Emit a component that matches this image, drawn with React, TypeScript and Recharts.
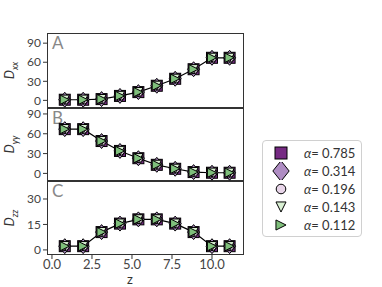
import React from 'react';
import { ComposedChart, Line, Scatter, XAxis, YAxis } from 'recharts';

// positions along z and the three diffusion components
const zValues = [0.8, 1.95, 3.1, 4.25, 5.4, 6.55, 7.7, 8.85, 10.0, 11.1];
const dxx = [1, 1, 2, 7, 13, 23, 34, 49, 67, 67];
const dyy = [67, 67, 49, 34, 23, 13, 7, 2, 1, 1];
const dzz = [2.2, 2.2, 10.5, 15.5, 18, 18, 15.5, 10.5, 2.2, 2.2];

const alphaLabels = ['0.785', '0.314', '0.196', '0.143', '0.112'];
const markerKinds = ['square', 'diamond', 'circle', 'triDown', 'triRight'];
const markerColors = ['#762a83', '#af8dc3', '#e7d4e8', '#d9f0d3', '#7fbf7b'];
const xTicks = [0, 2.5, 5, 7.5, 10];

const FONT = 'Lato, "DejaVu Sans", sans-serif';
const PLOT_LEFT = 47;
const PLOT_RIGHT = 244;
const W = 382;

const Marker = ({ kind, cx, cy, color, s }: any) => {
  const common = { fill: color, stroke: '#000', strokeWidth: 1 };
  switch (kind) {
    case 'square':
      return <rect x={cx - s / 2} y={cy - s / 2} width={s} height={s} {...common} />;
    case 'diamond': {
      const h = s * 0.68;
      return <polygon points={`${cx},${cy - h} ${cx + h * 0.8},${cy} ${cx},${cy + h} ${cx - h * 0.8},${cy}`} {...common} />;
    }
    case 'circle':
      return <circle cx={cx} cy={cy} r={s * 0.4} {...common} />;
    case 'triDown': {
      const h = s * 0.42;
      return <polygon points={`${cx - h},${cy - h} ${cx + h},${cy - h} ${cx},${cy + h}`} {...common} />;
    }
    default: {
      const h = s * 0.42;
      return <polygon points={`${cx - h},${cy - h} ${cx + h},${cy} ${cx - h},${cy + h}`} {...common} />;
    }
  }
};

const YLabel = ({ viewBox, sub }: any) => {
  const x = 14;
  const y = viewBox.y + viewBox.height / 2;
  return (
    <text x={x} y={y} transform={`rotate(-90, ${x}, ${y})`} textAnchor="middle" fontFamily={FONT} fontSize={13} fill="#333">
      <tspan fontStyle="italic">D</tspan>
      <tspan fontStyle="italic" fontSize={9} dy={4}>{sub}</tspan>
    </text>
  );
};

interface PanelProps {
  values: number[];
  top: number;
  plotH: number;
  domain: [number, number];
  ticks: number[];
  sub: string;
  letter: string;
  showX?: boolean;
}

const Panel = ({ values, top, plotH, domain, ticks, sub, letter, showX }: PanelProps) => {
  const rows = zValues.map((z, i) => ({ z, v: values[i] }));
  const axisH = showX ? 32 : 0;
  return (
    <>
      <div
        style={{
          position: 'absolute', left: PLOT_LEFT, top, width: PLOT_RIGHT - PLOT_LEFT, height: plotH,
          border: '1px solid #333', boxSizing: 'border-box',
        }}
      />
      <div style={{ position: 'absolute', left: PLOT_LEFT + 5, top: top + 1, fontFamily: FONT, fontSize: 17, color: '#888', lineHeight: '18px' }}>
        {letter}
      </div>
      <div style={{ position: 'absolute', left: 0, top: 0 }}>
        <ComposedChart
          width={W}
          height={top + plotH + axisH}
          data={rows}
          margin={{ top, right: W - PLOT_RIGHT, left: 0, bottom: 0 }}
        >
          <XAxis
            type="number"
            dataKey="z"
            domain={[-0.31, 12.0]}
            ticks={xTicks}
            interval={0}
            hide={!showX}
            height={axisH}
            axisLine={false}
            tickSize={4}
            tickMargin={1}
            tickLine={{ stroke: '#333' }}
            tick={{ fill: '#444', fontSize: 13, fontFamily: FONT }}
            tickFormatter={(v: number) => v.toFixed(1)}
            allowDataOverflow
          />
          <YAxis
            type="number"
            domain={domain}
            ticks={ticks}
            interval={0}
            width={PLOT_LEFT}
            axisLine={false}
            tickSize={4}
            tickMargin={2}
            tickLine={{ stroke: '#333' }}
            tick={{ fill: '#444', fontSize: 12, fontFamily: FONT }}
            allowDataOverflow
            label={{ content: (p: any) => <YLabel {...p} sub={sub} /> }}
          />
          {markerKinds.map((kind, k) => (
            <Scatter
              key={kind}
              dataKey="v"
              isAnimationActive={false}
              shape={(p: any) => <Marker kind={kind} cx={p.cx} cy={p.cy} color={markerColors[k]} s={11} />}
            />
          ))}
          <Line dataKey="v" stroke="#000" strokeWidth={1.2} dot={false} isAnimationActive={false} />
        </ComposedChart>
      </div>
    </>
  );
};

export default function App() {
  return (
    <div style={{ position: 'absolute', left: 0, top: 0, width: W, height: 287, background: '#fff', overflow: 'hidden' }}>
      <Panel values={dxx} top={33} plotH={75} domain={[-12, 106]} ticks={[0, 30, 60, 90]} sub="xx" letter="A" />
      <Panel values={dyy} top={108} plotH={73} domain={[-11.5, 99]} ticks={[0, 30, 60, 90]} sub="yy" letter="B" />
      <Panel values={dzz} top={181} plotH={74} domain={[-3, 40.6]} ticks={[0, 15, 30]} sub="zz" letter="C" showX />
      <div style={{ position: 'absolute', left: 127, top: 273, fontFamily: FONT, fontSize: 13, lineHeight: '13px', color: '#333' }}>z</div>
      <div
        style={{
          position: 'absolute', left: 262, top: 140, width: 100, height: 97, boxSizing: 'border-box',
          border: '1px solid #d0d0d0', borderRadius: 4, paddingTop: 3, fontFamily: FONT, fontSize: 13, color: '#333',
        }}
      >
        {alphaLabels.map((a, k) => (
          <div key={a} style={{ height: 18, display: 'flex', alignItems: 'center' }}>
            <svg width={36} height={18} style={{ display: 'block' }}>
              <Marker kind={markerKinds[k]} cx={18} cy={9} color={markerColors[k]} s={k === 1 ? 15 : 12} />
            </svg>
            <span style={{ marginLeft: 5 }}>
              <i>α</i>= {a}
            </span>
          </div>
        ))}
      </div>
    </div>
  );
}
